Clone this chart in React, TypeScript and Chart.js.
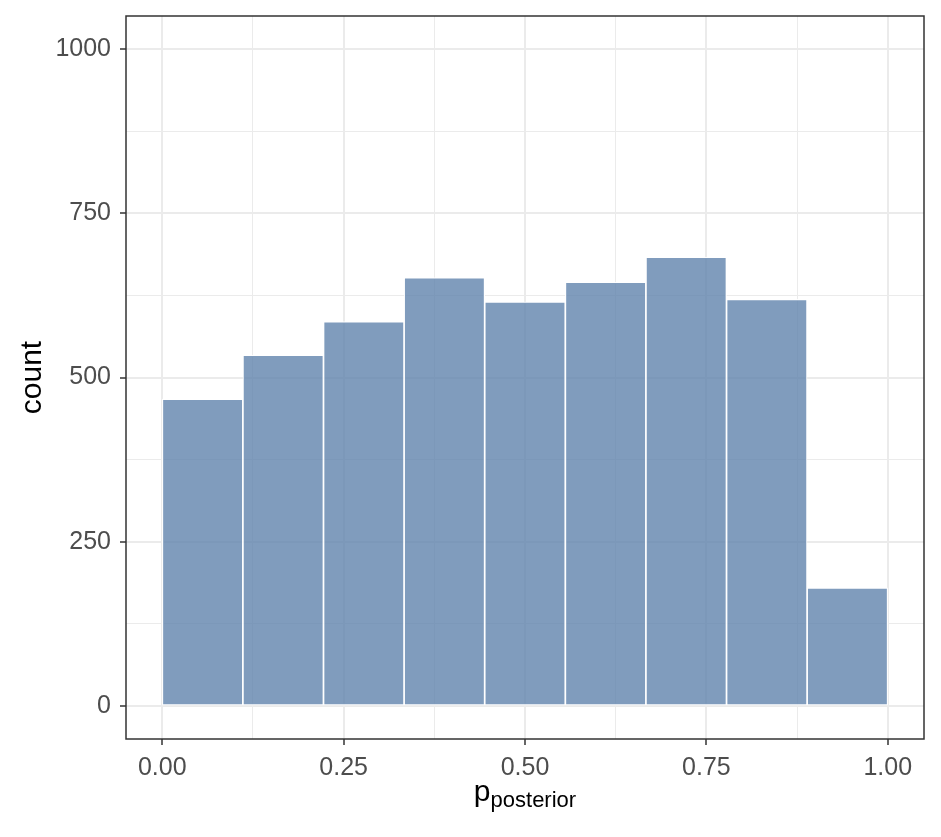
import React, { useEffect, useRef } from "react";
import { Chart, registerables } from "chart.js";

Chart.register(...registerables);

// Histogram: 9 equal bins over [0, 1]
const binCenters = [1, 3, 5, 7, 9, 11, 13, 15, 17].map((k) => k / 18);
const counts = [467, 534, 585, 652, 615, 645, 683, 619, 180];
const xTicks = [0, 0.125, 0.25, 0.375, 0.5, 0.625, 0.75, 0.875, 1];
const xMajor = [0, 0.25, 0.5, 0.75, 1];
const yTicks = [0, 125, 250, 375, 500, 625, 750, 875, 1000];
const yMajor = [0, 250, 500, 750, 1000];
const xTitleMain = "p";
const xTitleSub = "posterior";
const yTitle = "count";

const FONT = '"Liberation Sans", Arial, Helvetica, sans-serif';

const isMajor = (list: number[], v: number) => list.some((m) => Math.abs(m - v) < 1e-9);

const panelPlugin = {
  id: "panelDecor",
  afterDraw(chart: any) {
    const { ctx, chartArea } = chart;
    ctx.save();
    ctx.strokeStyle = "#333333";
    ctx.lineWidth = 1.5;
    ctx.strokeRect(chartArea.left, chartArea.top, chartArea.right - chartArea.left, chartArea.bottom - chartArea.top);
    // y title
    ctx.fillStyle = "#000000";
    ctx.font = `30px ${FONT}`;
    ctx.textAlign = "center";
    ctx.textBaseline = "alphabetic";
    ctx.translate(41, (chartArea.top + chartArea.bottom) / 2);
    ctx.rotate(-Math.PI / 2);
    ctx.fillText(yTitle, 0, 0);
    ctx.restore();

    // x title with subscript
    ctx.save();
    ctx.fillStyle = "#000000";
    ctx.textBaseline = "alphabetic";
    ctx.textAlign = "left";
    ctx.font = `30px ${FONT}`;
    const wMain = ctx.measureText(xTitleMain).width;
    ctx.font = `22px ${FONT}`;
    const wSub = ctx.measureText(xTitleSub).width;
    const total = wMain + wSub;
    const cx = (chartArea.left + chartArea.right) / 2;
    const x0 = cx - total / 2;
    const base = 801;
    ctx.font = `30px ${FONT}`;
    ctx.fillText(xTitleMain, x0, base);
    ctx.font = `22px ${FONT}`;
    ctx.fillText(xTitleSub, x0 + wMain, base + 6);
    ctx.restore();
  },
};

export default function App() {
  const ref = useRef<HTMLCanvasElement | null>(null);

  useEffect(() => {
    document.body.style.margin = "0";
    const canvas = ref.current;
    if (!canvas) return;
    const chart = new Chart(canvas, {
      type: "bar",
      data: {
        datasets: [
          {
            data: binCenters.map((x, i) => ({ x, y: counts[i] })),
            backgroundColor: "rgba(96,131,172,0.8)",
            borderColor: "rgba(255,255,255,0.9)",
            borderWidth: 1.2,
            borderSkipped: false,
            barPercentage: 1,
            categoryPercentage: 1,
          },
        ],
      },
      options: {
        responsive: false,
        animation: false,
        layout: { padding: { left: 0, top: 16, right: 17, bottom: 0 } },
        plugins: { legend: { display: false }, tooltip: { enabled: false }, title: { display: false } },
        scales: {
          x: {
            type: "linear",
            min: -0.05,
            max: 1.05,
            offset: false,
            afterBuildTicks: (scale: any) => {
              scale.ticks = xTicks.map((v) => ({ value: v }));
            },
            afterFit: (scale: any) => {
              scale.height = 98;
              scale.paddingLeft = 0;
              scale.paddingRight = 0;
            },
            border: { display: false },
            grid: {
              offset: false,
              color: "#ebebeb",
              lineWidth: (c: any) => (isMajor(xMajor, c.tick?.value) ? 2 : 1),
              drawTicks: true,
              tickLength: 6,
              tickWidth: 1.5,
              tickColor: (c: any) => (isMajor(xMajor, c.tick?.value) ? "#333333" : "rgba(0,0,0,0)"),
            },
            ticks: {
              autoSkip: false,
              maxRotation: 0,
              padding: 8,
              color: "#4d4d4d",
              font: { family: FONT, size: 25 },
              callback: (v: any) => (isMajor(xMajor, Number(v)) ? Number(v).toFixed(2) : ""),
            },
          },
          y: {
            type: "linear",
            min: -50,
            max: 1050,
            afterBuildTicks: (scale: any) => {
              scale.ticks = yTicks.map((v) => ({ value: v }));
            },
            afterFit: (scale: any) => {
              scale.width = 126;
              scale.paddingTop = 0;
              scale.paddingBottom = 0;
            },
            border: { display: false },
            grid: {
              color: "#ebebeb",
              lineWidth: (c: any) => (isMajor(yMajor, c.tick?.value) ? 2 : 1),
              drawTicks: true,
              tickLength: 6,
              tickWidth: 1.5,
              tickColor: (c: any) => (isMajor(yMajor, c.tick?.value) ? "#333333" : "rgba(0,0,0,0)"),
            },
            ticks: {
              autoSkip: false,
              padding: 9,
              color: "#4d4d4d",
              font: { family: FONT, size: 25 },
              callback: (v: any) => (isMajor(yMajor, Number(v)) ? String(v) : ""),
            },
          },
        },
      },
      plugins: [panelPlugin],
    } as any);
    return () => chart.destroy();
  }, []);

  return (
    <div style={{ width: 941, height: 837, background: "#ffffff" }}>
      <canvas ref={ref} width={941} height={837} style={{ display: "block" }} />
    </div>
  );
}
